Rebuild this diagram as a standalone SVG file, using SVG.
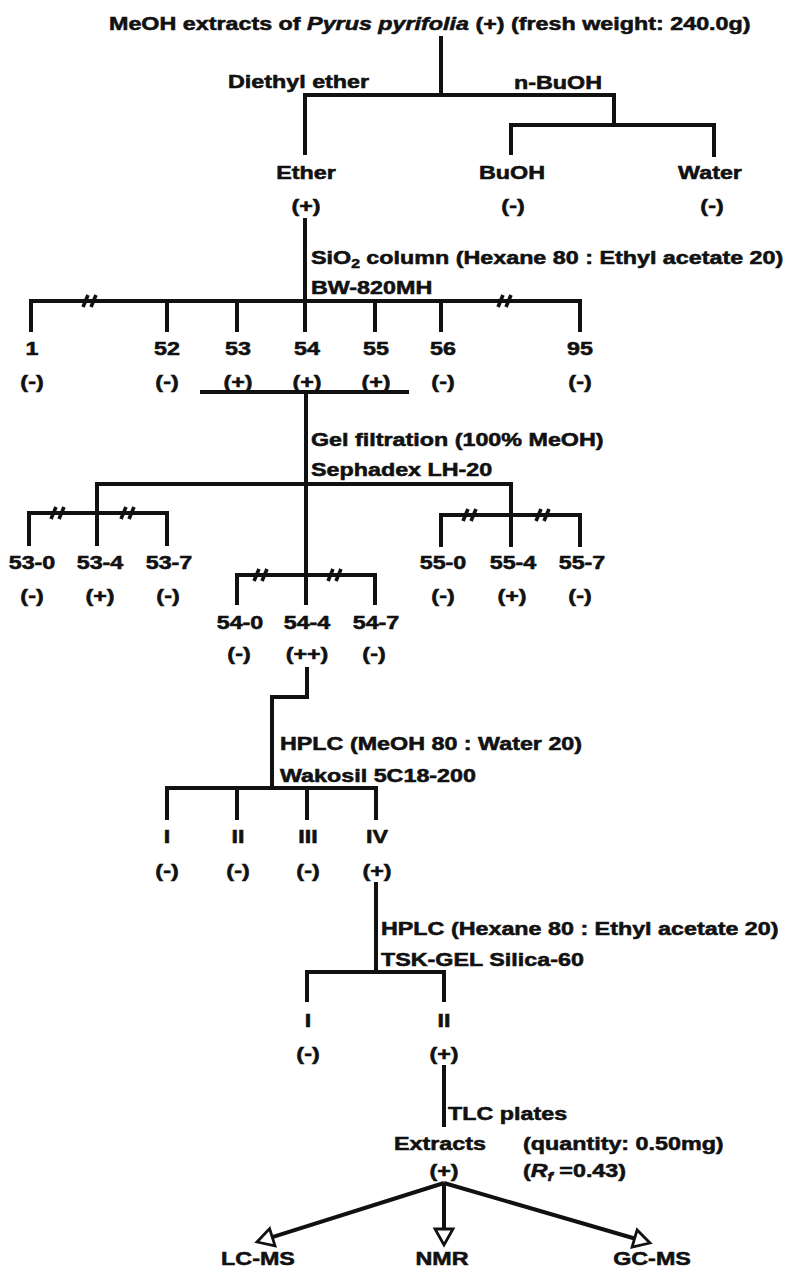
<svg xmlns="http://www.w3.org/2000/svg" xmlns:xlink="http://www.w3.org/1999/xlink" width="786" height="1268" viewBox="0 0 786 1268">
<style>
.t{font-family:"Liberation Sans",Arial,Helvetica,sans-serif;font-weight:bold;font-size:18.5px;fill:#111;stroke:#111;stroke-width:0.55px}
.m{text-anchor:middle}
.ln{fill:none;stroke:#111;stroke-width:4;stroke-linejoin:miter;stroke-linecap:butt}
.br{fill:none;stroke:#111;stroke-width:3.6}
.ah{fill:#fff;stroke:#111;stroke-width:2.8;stroke-linejoin:miter}
</style>
<defs>
<g id="brk"><line x1="-7" y1="6" x2="-2" y2="-6"/><line x1="1" y1="6" x2="6" y2="-6"/></g>
</defs>
<rect width="786" height="1268" fill="#fff"/>

<g id="connectors">
<path class="ln" d="M441,36 V95"/>
<path class="ln" d="M305,155 V95 H614 V125"/>
<path class="ln" d="M511,155 V125 H714 V157"/>
<path class="ln" d="M305,218 V332"/>
<path class="ln" d="M31,332 V301 H580 V332"/>
<path class="ln" d="M167,301 V332 M237,301 V332 M375,301 V332 M441,301 V332"/>
<path class="ln" d="M200,392 H409"/>
<path class="ln" d="M306,392 V605"/>
<path class="ln" d="M97,513 V484 H511 V515"/>
<path class="ln" d="M29,546 V513 H167 V546 M97,513 V546"/>
<path class="ln" d="M441,547 V515 H580 V547 M511,515 V547"/>
<path class="ln" d="M237,605 V575 H375 V605"/>
<path class="ln" d="M307,667 V697 H272 V788"/>
<path class="ln" d="M167,820 V788 H376 V820 M237,788 V820 M307,788 V820"/>
<path class="ln" d="M376,882 V972"/>
<path class="ln" d="M307,1002 V972 H444 V1002"/>
<path class="ln" d="M444,1065 V1127"/>
<g class="br">
<use xlink:href="#brk" x="90" y="301"/>
<use xlink:href="#brk" x="505" y="301"/>
<use xlink:href="#brk" x="58" y="513"/>
<use xlink:href="#brk" x="128" y="513"/>
<use xlink:href="#brk" x="470" y="515"/>
<use xlink:href="#brk" x="543" y="515"/>
<use xlink:href="#brk" x="261" y="575"/>
<use xlink:href="#brk" x="335" y="575"/>
</g>
<path class="ln" stroke-width="4.4" d="M444,1183 V1229"/>
<polygon class="ah" points="435,1229 453,1229 444,1245"/>
<path class="ln" stroke-width="4.4" d="M444,1183 L272.3,1237.2"/>
<polygon class="ah" points="257,1242 275,1245.8 269.6,1228.6"/>
<path class="ln" stroke-width="4.4" d="M444,1183 L634.6,1238.5"/>
<polygon class="ah" points="650,1243 632.1,1247.2 637.1,1229.9"/>
</g>

<g id="title"><text class="t" transform="translate(109 30) scale(1.26 1)">MeOH extracts of <tspan font-style="italic">Pyrus pyrifolia</tspan> (+) (fresh weight: 240.0g)</text></g>
<g id="solvents">
<text class="t" transform="translate(228 88) scale(1.26 1)">Diethyl ether</text>
<text class="t m" transform="translate(558 89) scale(1.26 1)">n-BuOH</text>
</g>
<g id="ether"><text class="t m" transform="translate(306 179) scale(1.26 1)">Ether</text><text class="t m" transform="translate(306 212) scale(1.26 1)">(+)</text></g>
<g id="buoh"><text class="t m" transform="translate(512 179) scale(1.26 1)">BuOH</text><text class="t m" transform="translate(513 212) scale(1.26 1)">(-)</text></g>
<g id="water"><text class="t m" transform="translate(710 179) scale(1.26 1)">Water</text><text class="t m" transform="translate(712 212) scale(1.26 1)">(-)</text></g>

<g id="step-sio2">
<text class="t" transform="translate(311 264) scale(1.26 1)">SiO<tspan font-size="12.5" dy="4">2</tspan><tspan dy="-4"> column (Hexane 80 : Ethyl acetate 20)</tspan></text>
<text class="t" transform="translate(311 294) scale(1.26 1)">BW-820MH</text>
</g>
<g id="f1"><text class="t m" transform="translate(32 355) scale(1.26 1)">1</text><text class="t m" transform="translate(32 388) scale(1.26 1)">(-)</text></g>
<g id="f52"><text class="t m" transform="translate(167 355) scale(1.26 1)">52</text><text class="t m" transform="translate(167 388) scale(1.26 1)">(-)</text></g>
<g id="f53"><text class="t m" transform="translate(238 355) scale(1.26 1)">53</text><text class="t m" transform="translate(238 388) scale(1.26 1)">(+)</text></g>
<g id="f54"><text class="t m" transform="translate(307 355) scale(1.26 1)">54</text><text class="t m" transform="translate(307 388) scale(1.26 1)">(+)</text></g>
<g id="f55"><text class="t m" transform="translate(376 355) scale(1.26 1)">55</text><text class="t m" transform="translate(376 388) scale(1.26 1)">(+)</text></g>
<g id="f56"><text class="t m" transform="translate(443 355) scale(1.26 1)">56</text><text class="t m" transform="translate(443 388) scale(1.26 1)">(-)</text></g>
<g id="f95"><text class="t m" transform="translate(580 355) scale(1.26 1)">95</text><text class="t m" transform="translate(580 388) scale(1.26 1)">(-)</text></g>

<g id="step-gel">
<text class="t" transform="translate(311 446) scale(1.26 1)">Gel filtration (100% MeOH)</text>
<text class="t" transform="translate(311 476) scale(1.26 1)">Sephadex LH-20</text>
</g>
<g id="f53-0"><text class="t m" transform="translate(32 569) scale(1.26 1)">53-0</text><text class="t m" transform="translate(32 602) scale(1.26 1)">(-)</text></g>
<g id="f53-4"><text class="t m" transform="translate(100 569) scale(1.26 1)">53-4</text><text class="t m" transform="translate(100 602) scale(1.26 1)">(+)</text></g>
<g id="f53-7"><text class="t m" transform="translate(169 569) scale(1.26 1)">53-7</text><text class="t m" transform="translate(168 602) scale(1.26 1)">(-)</text></g>
<g id="f55-0"><text class="t m" transform="translate(443 569) scale(1.26 1)">55-0</text><text class="t m" transform="translate(443 602) scale(1.26 1)">(-)</text></g>
<g id="f55-4"><text class="t m" transform="translate(513 569) scale(1.26 1)">55-4</text><text class="t m" transform="translate(512 602) scale(1.26 1)">(+)</text></g>
<g id="f55-7"><text class="t m" transform="translate(582 569) scale(1.26 1)">55-7</text><text class="t m" transform="translate(580 602) scale(1.26 1)">(-)</text></g>
<g id="f54-0"><text class="t m" transform="translate(240 629) scale(1.26 1)">54-0</text><text class="t m" transform="translate(239 660) scale(1.26 1)">(-)</text></g>
<g id="f54-4"><text class="t m" transform="translate(307 629) scale(1.26 1)">54-4</text><text class="t m" transform="translate(307 660) scale(1.26 1)">(++)</text></g>
<g id="f54-7"><text class="t m" transform="translate(376 629) scale(1.26 1)">54-7</text><text class="t m" transform="translate(374 660) scale(1.26 1)">(-)</text></g>

<g id="step-hplc1">
<text class="t" transform="translate(280 750) scale(1.26 1)">HPLC (MeOH 80 : Water 20)</text>
<text class="t" transform="translate(280 782) scale(1.26 1)">Wakosil 5C18-200</text>
</g>
<g id="h1-I"><text class="t m" transform="translate(167 843) scale(1.26 1)">I</text><text class="t m" transform="translate(167 877) scale(1.26 1)">(-)</text></g>
<g id="h1-II"><text class="t m" transform="translate(238 843) scale(1.26 1)">II</text><text class="t m" transform="translate(238 877) scale(1.26 1)">(-)</text></g>
<g id="h1-III"><text class="t m" transform="translate(308 843) scale(1.26 1)">III</text><text class="t m" transform="translate(308 877) scale(1.26 1)">(-)</text></g>
<g id="h1-IV"><text class="t m" transform="translate(377 843) scale(1.26 1)">IV</text><text class="t m" transform="translate(377 877) scale(1.26 1)">(+)</text></g>

<g id="step-hplc2">
<text class="t" transform="translate(381 935) scale(1.26 1)">HPLC (Hexane 80 : Ethyl acetate 20)</text>
<text class="t" transform="translate(381 966) scale(1.26 1)">TSK-GEL Silica-60</text>
</g>
<g id="h2-I"><text class="t m" transform="translate(308 1027) scale(1.26 1)">I</text><text class="t m" transform="translate(308 1060) scale(1.26 1)">(-)</text></g>
<g id="h2-II"><text class="t m" transform="translate(444 1027) scale(1.26 1)">II</text><text class="t m" transform="translate(444 1060) scale(1.26 1)">(+)</text></g>

<g id="step-tlc"><text class="t" transform="translate(448 1120) scale(1.26 1)">TLC plates</text></g>
<g id="extracts">
<text class="t m" transform="translate(440 1150) scale(1.26 1)">Extracts</text>
<text class="t m" transform="translate(444 1177) scale(1.26 1)">(+)</text>
<text class="t" transform="translate(523 1150) scale(1.26 1)">(quantity: 0.50mg)</text>
<text class="t" transform="translate(523 1177) scale(1.26 1)">(<tspan font-style="italic">R</tspan><tspan font-style="italic" font-size="12.5" dy="4">f</tspan><tspan dy="-4"> =0.43)</tspan></text>
</g>
<g id="lcms"><text class="t m" transform="translate(258 1265) scale(1.26 1)">LC-MS</text></g>
<g id="nmr"><text class="t m" transform="translate(442 1265) scale(1.26 1)">NMR</text></g>
<g id="gcms"><text class="t m" transform="translate(652 1265) scale(1.26 1)">GC-MS</text></g>
</svg>
